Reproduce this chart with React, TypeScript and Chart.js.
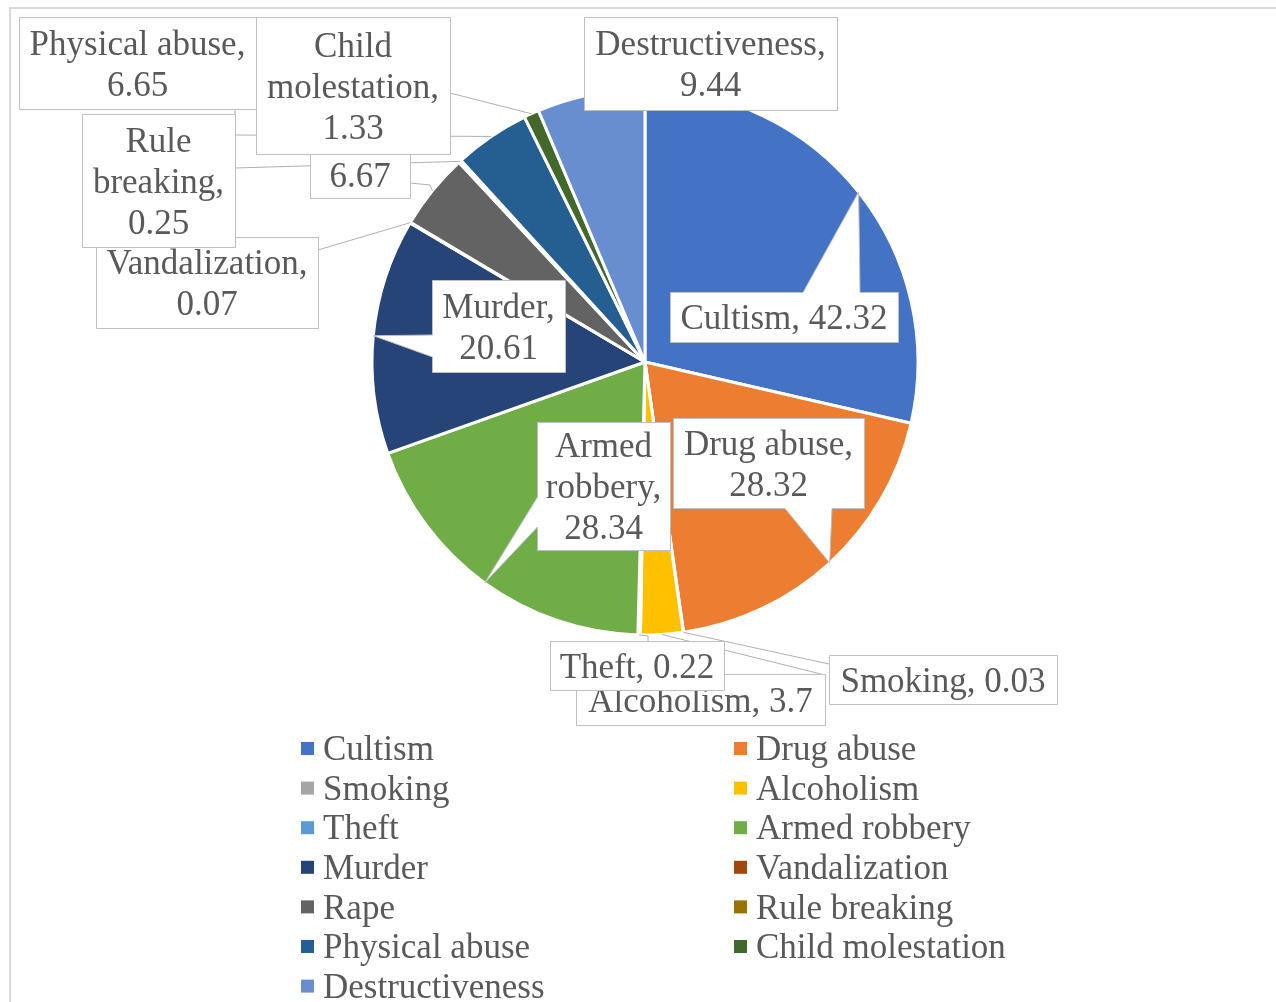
import React, { useEffect, useRef } from "react";
import { Chart, registerables } from "chart.js";

Chart.register(...registerables);

const categories = [
  "Cultism",
  "Drug abuse",
  "Smoking",
  "Alcoholism",
  "Theft",
  "Armed robbery",
  "Murder",
  "Vandalization",
  "Rape",
  "Rule breaking",
  "Physical abuse",
  "Child molestation",
  "Destructiveness",
];

const values = [42.32, 28.32, 0.03, 3.7, 0.22, 28.34, 20.61, 0.07, 6.67, 0.25, 6.65, 1.33, 9.44];

const sliceColors = [
  "#4472C4",
  "#ED7D31",
  "#A5A5A5",
  "#FFC000",
  "#5B9BD5",
  "#70AD47",
  "#264478",
  "#9E480E",
  "#636363",
  "#997300",
  "#255E91",
  "#43682B",
  "#698ED0",
];

// Callout box layout (pixel positions of label boxes, styling only)
type Box = {
  x: number;
  y: number;
  w: number;
  h: number;
  wedge?: { side: "top" | "bottom" | "left"; b1: number; b2: number };
  leader?: number[][];
};

const labelBoxes: Box[] = [
  { x: 670, y: 292, w: 228, h: 50, wedge: { side: "top", b1: 803, b2: 860 } },
  { x: 673, y: 418, w: 191, h: 90, wedge: { side: "bottom", b1: 785, b2: 832 } },
  { x: 829, y: 655, w: 228, h: 49, leader: [[829, 664]] },
  { x: 576, y: 674, w: 249, h: 51, leader: [[825, 675]] },
  { x: 550, y: 641, w: 174, h: 49, leader: [[648, 641], [648, 636]] },
  { x: 537, y: 422, w: 133, h: 128, wedge: { side: "left", b1: 497, b2: 527 } },
  { x: 432, y: 280, w: 133, h: 92, wedge: { side: "left", b1: 335, b2: 357 } },
  { x: 96, y: 237, w: 222, h: 91, leader: [[318, 250]] },
  { x: 310, y: 110, w: 100, h: 88, leader: [[410, 183], [430, 185]] },
  { x: 82, y: 114, w: 153, h: 133, leader: [[235, 168]] },
  { x: 19, y: 17, w: 237, h: 92, leader: [[235, 109], [235, 135]] },
  { x: 256, y: 17, w: 194, h: 137, leader: [[450, 93]] },
  { x: 584, y: 17, w: 253, h: 93 },
];

const FONT = "35px 'Liberation Serif', 'Times New Roman', serif";
const TEXT_COLOR = "#595959";
const LINE_H = 41;

function wrapText(ctx: CanvasRenderingContext2D, text: string, maxW: number): string[] {
  const words = text.split(" ");
  const lines: string[] = [];
  let cur = "";
  for (const w of words) {
    const test = cur ? cur + " " + w : w;
    if (cur && ctx.measureText(test).width > maxW) {
      lines.push(cur);
      cur = w;
    } else {
      cur = test;
    }
  }
  if (cur) lines.push(cur);
  return lines;
}

const calloutPlugin = {
  id: "callouts",
  afterDatasetsDraw(chart: any) {
    const ctx: CanvasRenderingContext2D = chart.ctx;
    const meta = chart.getDatasetMeta(0);
    const tips = meta.data.map((arc: any) => {
      const p = arc.getProps(["x", "y", "startAngle", "endAngle", "outerRadius"], true);
      const a = (p.startAngle + p.endAngle) / 2;
      return [p.x + Math.cos(a) * p.outerRadius, p.y + Math.sin(a) * p.outerRadius];
    });
    ctx.save();
    // leader lines
    ctx.strokeStyle = "#b0b0b0";
    ctx.lineWidth = 1;
    labelBoxes.forEach((b, i) => {
      if (!b.leader) return;
      ctx.beginPath();
      ctx.moveTo(b.leader[0][0], b.leader[0][1]);
      for (let k = 1; k < b.leader.length; k++) ctx.lineTo(b.leader[k][0], b.leader[k][1]);
      ctx.lineTo(tips[i][0], tips[i][1]);
      ctx.stroke();
    });
    // boxes and text in series order
    ctx.font = FONT;
    labelBoxes.forEach((b, i) => {
      const x = b.x + 0.5;
      const y = b.y + 0.5;
      const r = x + b.w;
      const bt = y + b.h;
      ctx.beginPath();
      if (b.wedge && b.wedge.side === "top") {
        ctx.moveTo(x, y);
        ctx.lineTo(b.wedge.b1, y);
        ctx.lineTo(tips[i][0], tips[i][1]);
        ctx.lineTo(b.wedge.b2, y);
        ctx.lineTo(r, y);
        ctx.lineTo(r, bt);
        ctx.lineTo(x, bt);
      } else if (b.wedge && b.wedge.side === "bottom") {
        ctx.moveTo(x, y);
        ctx.lineTo(r, y);
        ctx.lineTo(r, bt);
        ctx.lineTo(b.wedge.b2, bt);
        ctx.lineTo(tips[i][0], tips[i][1]);
        ctx.lineTo(b.wedge.b1, bt);
        ctx.lineTo(x, bt);
      } else if (b.wedge && b.wedge.side === "left") {
        ctx.moveTo(x, y);
        ctx.lineTo(r, y);
        ctx.lineTo(r, bt);
        ctx.lineTo(x, bt);
        ctx.lineTo(x, b.wedge.b2);
        ctx.lineTo(tips[i][0], tips[i][1]);
        ctx.lineTo(x, b.wedge.b1);
      } else {
        ctx.rect(x, y, b.w, b.h);
      }
      ctx.closePath();
      ctx.fillStyle = "#ffffff";
      ctx.fill();
      ctx.strokeStyle = "#bfbfbf";
      ctx.lineWidth = 1;
      ctx.stroke();

      const text = `${chart.data.labels[i]}, ${chart.data.datasets[0].data[i]}`;
      const lines = wrapText(ctx, text, b.w - 8);
      ctx.fillStyle = TEXT_COLOR;
      ctx.textAlign = "center";
      ctx.textBaseline = "middle";
      const cx = b.x + b.w / 2;
      const cy = b.y + b.h / 2;
      lines.forEach((ln, k) => {
        ctx.fillText(ln, cx, cy + (k - (lines.length - 1) / 2) * LINE_H + 3);
      });
    });
    ctx.restore();
  },
  afterDraw(chart: any) {
    const ctx: CanvasRenderingContext2D = chart.ctx;
    ctx.save();
    // outer chart border
    ctx.strokeStyle = "#d9d9d9";
    ctx.lineWidth = 2;
    ctx.strokeRect(10, 8, 1300, 1100);
    // legend, two columns
    const colX = [301, 734];
    const rowY0 = 748;
    const rowH = 39.6;
    ctx.font = FONT;
    ctx.textAlign = "left";
    ctx.textBaseline = "middle";
    const labels: string[] = chart.data.labels;
    const colors: string[] = chart.data.datasets[0].backgroundColor;
    labels.forEach((lab, i) => {
      const col = i % 2;
      const row = Math.floor(i / 2);
      const x = colX[col];
      const y = rowY0 + row * rowH;
      ctx.fillStyle = colors[i];
      ctx.fillRect(x, y - 6, 13, 13);
      ctx.fillStyle = TEXT_COLOR;
      ctx.fillText(lab, x + 22, y + 3);
    });
    ctx.restore();
  },
};

export default function App() {
  const canvasRef = useRef<HTMLCanvasElement | null>(null);

  useEffect(() => {
    if (!canvasRef.current) return;
    const chart = new Chart(canvasRef.current, {
      type: "pie",
      data: {
        labels: categories,
        datasets: [
          {
            data: values,
            backgroundColor: sliceColors,
            borderColor: "#ffffff",
            borderWidth: 3,
          },
        ],
      },
      options: {
        responsive: false,
        animation: false,
        radius: 273,
        layout: { padding: { left: 373, right: 359, top: 90, bottom: 368 } },
        plugins: {
          legend: { display: false },
          tooltip: { enabled: false },
          title: { display: false },
        },
      } as any,
      plugins: [calloutPlugin],
    });
    return () => chart.destroy();
  }, []);

  return (
    <div style={{ position: "fixed", left: 0, top: 0, width: 1276, height: 1002, background: "#ffffff", overflow: "hidden" }}>
      <canvas ref={canvasRef} width={1276} height={1002} style={{ display: "block" }} />
    </div>
  );
}
